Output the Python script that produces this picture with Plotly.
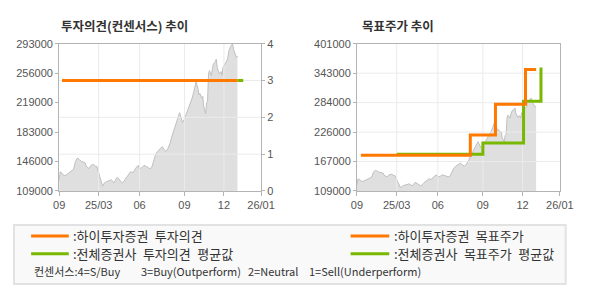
import plotly.graph_objects as go

W, H = 590, 300

# ---------------- data ----------------
# x positions are trading-day index units along the shared time axis
day_idx = [0, 1, 3, 5, 7, 10, 13, 15, 17, 19, 21, 23, 27, 28, 31, 33, 36, 38, 39, 42,
           44, 45, 47, 49, 52, 54, 57, 60, 62, 64, 66, 69, 72, 74, 77, 79, 82, 83, 86, 88,
           91, 94, 96, 98, 100, 102, 105, 107, 109, 111, 113, 115, 117, 119, 121, 123, 125, 126, 128, 130,
           132, 134, 136, 138, 140, 142, 144, 145, 146, 148, 149, 150, 152, 153, 154, 155, 156, 158, 159, 160,
           162, 163, 164, 166, 168, 169, 170, 172, 174, 175, 176, 178, 180, 181, 182, 184, 185]
price = [121900, 132900, 131200, 128000, 128800, 131200, 134100, 136100, 146200, 150200,
         148200, 146200, 144200, 140100, 136900, 141000, 142200, 139300, 140100, 128000,
         117900, 115100, 119100, 120700, 121900, 123200, 119100, 126000, 124000, 120700,
         119100, 124800, 130000, 132900, 132100, 136900, 141000, 136900, 138100, 141000,
         139300, 136900, 138100, 148200, 154300, 158300, 162400, 164400, 160400, 158300,
         162400, 168400, 177300, 184600, 190700, 196800, 206900, 202800, 194700, 198800,
         204800, 212900, 219000, 225100, 234000, 245300, 237200, 229100, 231100, 225100,
         227100, 215000, 205700, 219000, 221000, 255400, 259400, 253400, 261500, 267500,
         270400, 273600, 263500, 255400, 258200, 253400, 263500, 267500, 271600, 275600,
         283700, 289800, 293000, 285700, 281700, 275600, 277600]

# investment opinion (consensus scale 1-4)
hi_opinion_x = [3, 185]
hi_opinion = [3, 3]
avg_opinion_x = [185, 191]
avg_opinion = [3, 3]

# target prices (step lines)
hi_target_x = [4, 117, 143, 174, 185]
hi_target = [180000, 220000, 281000, 350000, 350000]
avg_target_x = [41, 130, 172, 190]
avg_target = [182000, 204000, 287000, 354000]

x_range = [0, 209.5]
x_tickvals = [0, 41, 83.5, 130, 171, 209.5]
x_ticktext = ["09", "25/03", "06", "09", "12", "26/01"]

y1_range = [109000, 293000]
y1_ticktext = ["109000", "146000", "183000", "219000", "256000", "293000"]
y2_range = [109000, 401000]
y2_ticktext = ["109000", "167000", "226000", "284000", "343000", "401000"]
op_range = [0, 4]
op_ticks = [0, 1, 2, 3, 4]

titles = ["투자의견(컨센서스) 추이", "목표주가 추이"]
SP = "\u2002"
legend_items = [":하이투자증권" + SP + "투자의견", ":전체증권사" + SP + "투자의견" + SP + "평균값",
                ":하이투자증권" + SP + "목표주가", ":전체증권사" + SP + "목표주가" + SP + "평균값"]
consensus_parts = ["컨센서스:4=S/Buy", "3=Buy(Outperform)", "2=Neutral", "1=Sell(Underperform)"]

ORANGE = "#ff7800"
GREEN = "#78b800"
AREA = "#dfdfdf"
AREA_LINE = "#bfbfbf"
GRID = "#ebebeb"
AXIS = "#b4b4b4"
TXT = "#555555"
KFONT = "Noto Sans CJK KR"
NFONT = "Liberation Sans"


def even_ticks(rng, n=5):
    return [rng[0] + (rng[1] - rng[0]) * k / n for k in range(n + 1)]


def grid_xy(vert_vals, horiz_vals, xr, yr):
    """Grid segments (drawn above the price area like the original)."""
    gx, gy = [], []
    for v in vert_vals:
        if xr[0] < v < xr[1]:
            gx += [v, v, None]
            gy += [yr[0], yr[1], None]
    for h in horiz_vals:
        if yr[0] < h < yr[1]:
            gx += [xr[0], xr[1], None]
            gy += [h, h, None]
    return gx, gy


fig = go.Figure()

# ---- left chart ----
fig.add_trace(go.Scatter(x=day_idx, y=price, mode="lines", fill="tozeroy",
                         fillcolor=AREA, line=dict(color=AREA_LINE, width=1),
                         xaxis="x", yaxis="y", hoverinfo="skip"))
gx, gy = grid_xy(x_tickvals, op_ticks, x_range, op_range)
fig.add_trace(go.Scatter(x=gx, y=gy, mode="lines", line=dict(color=GRID, width=1),
                         xaxis="x", yaxis="y3", hoverinfo="skip"))
fig.add_trace(go.Scatter(x=avg_opinion_x, y=avg_opinion, mode="lines",
                         line=dict(color=GREEN, width=3), xaxis="x", yaxis="y3"))
fig.add_trace(go.Scatter(x=hi_opinion_x, y=hi_opinion, mode="lines",
                         line=dict(color=ORANGE, width=3), xaxis="x", yaxis="y3"))

# ---- right chart ----
fig.add_trace(go.Scatter(x=day_idx, y=price, mode="lines", fill="tozeroy",
                         fillcolor=AREA, line=dict(color=AREA_LINE, width=1),
                         xaxis="x2", yaxis="y2", hoverinfo="skip"))
gx, gy = grid_xy(x_tickvals, even_ticks(y2_range), x_range, y2_range)
fig.add_trace(go.Scatter(x=gx, y=gy, mode="lines", line=dict(color=GRID, width=1),
                         xaxis="x2", yaxis="y2", hoverinfo="skip"))
fig.add_trace(go.Scatter(x=avg_target_x, y=avg_target, mode="lines", line_shape="hv",
                         line=dict(color=GREEN, width=3), xaxis="x2", yaxis="y2"))
fig.add_trace(go.Scatter(x=hi_target_x, y=hi_target, mode="lines", line_shape="hv",
                         line=dict(color=ORANGE, width=3), xaxis="x2", yaxis="y2"))

ydom = [1 - 192.7 / H, 1 - 39.3 / H]
xcommon = dict(range=x_range, tickmode="array", tickvals=x_tickvals, ticktext=x_ticktext,
               showgrid=False, showline=True, linecolor=AXIS,
               linewidth=1, mirror=True, ticks="outside", ticklen=4, tickcolor=AXIS,
               tickfont=dict(family=NFONT, size=11, color=TXT), zeroline=False, fixedrange=True)
fig.update_layout(
    xaxis=dict(domain=[55 / W, 264 / W], anchor="y", **xcommon),
    xaxis2=dict(domain=[363.3 / W, 573.3 / W], anchor="y2", **xcommon),
    yaxis=dict(domain=ydom, anchor="x", range=y1_range, tickmode="array",
               tickvals=even_ticks(y1_range), ticktext=y1_ticktext, showgrid=False,
               showline=True, linecolor=AXIS, ticks="outside", ticklen=3, tickcolor=AXIS,
               tickfont=dict(family=NFONT, size=11, color=TXT), zeroline=False),
    yaxis3=dict(overlaying="y", side="right", anchor="x", range=op_range, tickmode="array",
                tickvals=op_ticks, ticktext=[str(v) for v in op_ticks], showgrid=False,
                showline=True, linecolor=AXIS, ticks="outside", ticklen=3,
                tickcolor=AXIS, tickfont=dict(family=NFONT, size=11, color=TXT), zeroline=False),
    yaxis2=dict(domain=ydom, anchor="x2", range=y2_range, tickmode="array",
                tickvals=even_ticks(y2_range), ticktext=y2_ticktext, showgrid=False,
                showline=True, linecolor=AXIS, mirror=True, ticks="outside",
                ticklen=3, tickcolor=AXIS, tickfont=dict(family=NFONT, size=11, color=TXT),
                zeroline=False),
    width=W, height=H, autosize=False, margin=dict(l=0, r=0, t=0, b=0),
    paper_bgcolor="white", plot_bgcolor="white", showlegend=False,
)


def px(x):
    return x / W


def py(y):
    return 1 - y / H


ann = []
ann.append(dict(text="<b>" + titles[0] + "</b>", x=px(55), y=py(20), xref="paper", yref="paper",
                xanchor="left", yanchor="middle", showarrow=False,
                font=dict(family=KFONT, size=12.5, color="#333333")))
ann.append(dict(text="<b>" + titles[1] + "</b>", x=px(366.5), y=py(20), xref="paper", yref="paper",
                xanchor="left", yanchor="middle", showarrow=False,
                font=dict(family=KFONT, size=12.5, color="#333333")))

shapes = []
# legend box
shapes.append(dict(type="rect", xref="paper", yref="paper", x0=px(8.3), x1=px(579.3),
                   y0=py(289.5), y1=py(228), fillcolor="#f9f9f9",
                   line=dict(color="#e2e2e2", width=2), layer="below"))
leg_pos = [(26, 65, 67.7, 239.5, ORANGE), (26, 65, 67.7, 258, GREEN),
           (356.7, 396.7, 399.3, 239.5, ORANGE), (356.7, 396.7, 399.3, 258, GREEN)]
for (lx0, lx1, tx, ly, col), label in zip(leg_pos, legend_items):
    shapes.append(dict(type="line", xref="paper", yref="paper", x0=px(lx0), x1=px(lx1),
                       y0=py(ly), y1=py(ly), line=dict(color=col, width=3)))
    ann.append(dict(text=label, x=px(tx), y=py(ly), xref="paper", yref="paper",
                    xanchor="left", yanchor="middle", showarrow=False,
                    font=dict(family=KFONT, size=13, color="#333333")))
for tx, part in zip([26.7, 137.7, 248, 311.7], consensus_parts):
    ann.append(dict(text=part, x=px(tx), y=py(276), xref="paper", yref="paper",
                    xanchor="left", yanchor="middle", showarrow=False,
                    font=dict(family=KFONT, size=11, color="#333333")))

fig.update_layout(annotations=ann, shapes=shapes)
fig.write_html("out.html", config={"displayModeBar": False, "staticPlot": True})
